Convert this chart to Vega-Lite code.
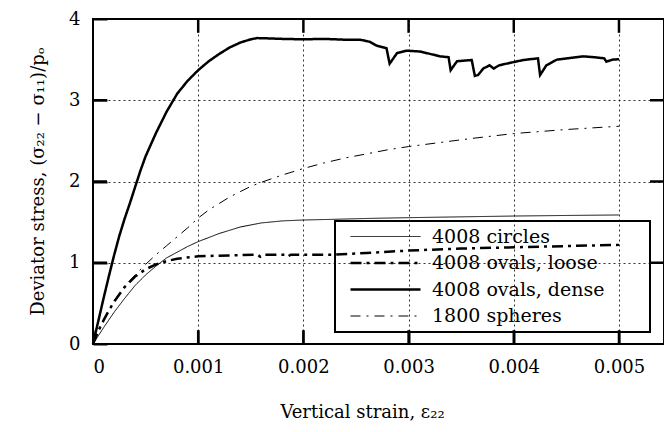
{
  "$schema": "https://vega.github.io/schema/vega-lite/v6.json",
  "width": 571,
  "height": 325,
  "autosize": {"type": "none"},
  "padding": {"left": 93, "top": 19, "right": 0, "bottom": 88},
  "config": {
    "font": "DejaVu Serif",
    "view": {"stroke": "black", "strokeWidth": 2},
    "axis": {"labelColor": "black", "titleColor": "black", "tickColor": "black", "labelFont": "DejaVu Serif", "titleFont": "DejaVu Serif"}
  },
  "datasets": {
    "ticksX": [{"v": 0.001}, {"v": 0.002}, {"v": 0.003}, {"v": 0.004}, {"v": 0.005}],
    "ticksY": [{"v": 1}, {"v": 2}, {"v": 3}]
  },
  "data": {"values": [
    {"s": "4008 circles", "x": 0, "y": 0},
    {"s": "4008 circles", "x": 0.0001, "y": 0.2},
    {"s": "4008 circles", "x": 0.0002, "y": 0.39},
    {"s": "4008 circles", "x": 0.0003, "y": 0.56},
    {"s": "4008 circles", "x": 0.0004, "y": 0.72},
    {"s": "4008 circles", "x": 0.0005, "y": 0.85},
    {"s": "4008 circles", "x": 0.0006, "y": 0.96},
    {"s": "4008 circles", "x": 0.0007, "y": 1.06},
    {"s": "4008 circles", "x": 0.0008, "y": 1.13},
    {"s": "4008 circles", "x": 0.0009, "y": 1.2},
    {"s": "4008 circles", "x": 0.001, "y": 1.26},
    {"s": "4008 circles", "x": 0.0012, "y": 1.36},
    {"s": "4008 circles", "x": 0.0014, "y": 1.44},
    {"s": "4008 circles", "x": 0.0016, "y": 1.49},
    {"s": "4008 circles", "x": 0.0018, "y": 1.515},
    {"s": "4008 circles", "x": 0.002, "y": 1.526},
    {"s": "4008 circles", "x": 0.0023, "y": 1.535},
    {"s": "4008 circles", "x": 0.0026, "y": 1.545},
    {"s": "4008 circles", "x": 0.003, "y": 1.555},
    {"s": "4008 circles", "x": 0.0035, "y": 1.565},
    {"s": "4008 circles", "x": 0.004, "y": 1.575},
    {"s": "4008 circles", "x": 0.0045, "y": 1.582},
    {"s": "4008 circles", "x": 0.005, "y": 1.588},
    {"s": "4008 ovals, loose", "x": 0, "y": 0},
    {"s": "4008 ovals, loose", "x": 0.00005, "y": 0.16},
    {"s": "4008 ovals, loose", "x": 0.0001, "y": 0.29},
    {"s": "4008 ovals, loose", "x": 0.00015, "y": 0.41},
    {"s": "4008 ovals, loose", "x": 0.0002, "y": 0.52},
    {"s": "4008 ovals, loose", "x": 0.0003, "y": 0.7},
    {"s": "4008 ovals, loose", "x": 0.0004, "y": 0.83},
    {"s": "4008 ovals, loose", "x": 0.0005, "y": 0.92},
    {"s": "4008 ovals, loose", "x": 0.0006, "y": 0.98},
    {"s": "4008 ovals, loose", "x": 0.0007, "y": 1.02},
    {"s": "4008 ovals, loose", "x": 0.0008, "y": 1.05},
    {"s": "4008 ovals, loose", "x": 0.001, "y": 1.08},
    {"s": "4008 ovals, loose", "x": 0.0013, "y": 1.09},
    {"s": "4008 ovals, loose", "x": 0.00156, "y": 1.1},
    {"s": "4008 ovals, loose", "x": 0.00159, "y": 1.075},
    {"s": "4008 ovals, loose", "x": 0.00162, "y": 1.1},
    {"s": "4008 ovals, loose", "x": 0.00182, "y": 1.1},
    {"s": "4008 ovals, loose", "x": 0.00185, "y": 1.075},
    {"s": "4008 ovals, loose", "x": 0.00188, "y": 1.1},
    {"s": "4008 ovals, loose", "x": 0.0023, "y": 1.1},
    {"s": "4008 ovals, loose", "x": 0.0026, "y": 1.12},
    {"s": "4008 ovals, loose", "x": 0.003, "y": 1.15},
    {"s": "4008 ovals, loose", "x": 0.0035, "y": 1.175},
    {"s": "4008 ovals, loose", "x": 0.004, "y": 1.19},
    {"s": "4008 ovals, loose", "x": 0.0045, "y": 1.205},
    {"s": "4008 ovals, loose", "x": 0.005, "y": 1.22},
    {"s": "4008 ovals, dense", "x": 0, "y": 0},
    {"s": "4008 ovals, dense", "x": 0.00005, "y": 0.28},
    {"s": "4008 ovals, dense", "x": 0.0001, "y": 0.56},
    {"s": "4008 ovals, dense", "x": 0.00015, "y": 0.83},
    {"s": "4008 ovals, dense", "x": 0.0002, "y": 1.09},
    {"s": "4008 ovals, dense", "x": 0.00025, "y": 1.33},
    {"s": "4008 ovals, dense", "x": 0.0003, "y": 1.54},
    {"s": "4008 ovals, dense", "x": 0.00035, "y": 1.73},
    {"s": "4008 ovals, dense", "x": 0.0004, "y": 1.93},
    {"s": "4008 ovals, dense", "x": 0.00045, "y": 2.13},
    {"s": "4008 ovals, dense", "x": 0.0005, "y": 2.31},
    {"s": "4008 ovals, dense", "x": 0.0006, "y": 2.6},
    {"s": "4008 ovals, dense", "x": 0.0007, "y": 2.86},
    {"s": "4008 ovals, dense", "x": 0.0008, "y": 3.08},
    {"s": "4008 ovals, dense", "x": 0.0009, "y": 3.24},
    {"s": "4008 ovals, dense", "x": 0.001, "y": 3.37},
    {"s": "4008 ovals, dense", "x": 0.0011, "y": 3.48},
    {"s": "4008 ovals, dense", "x": 0.0012, "y": 3.57},
    {"s": "4008 ovals, dense", "x": 0.0013, "y": 3.65},
    {"s": "4008 ovals, dense", "x": 0.0014, "y": 3.71},
    {"s": "4008 ovals, dense", "x": 0.0015, "y": 3.75},
    {"s": "4008 ovals, dense", "x": 0.00156, "y": 3.765},
    {"s": "4008 ovals, dense", "x": 0.0017, "y": 3.76},
    {"s": "4008 ovals, dense", "x": 0.0018, "y": 3.755},
    {"s": "4008 ovals, dense", "x": 0.002, "y": 3.75},
    {"s": "4008 ovals, dense", "x": 0.0022, "y": 3.755},
    {"s": "4008 ovals, dense", "x": 0.0024, "y": 3.745},
    {"s": "4008 ovals, dense", "x": 0.00254, "y": 3.745},
    {"s": "4008 ovals, dense", "x": 0.00263, "y": 3.72},
    {"s": "4008 ovals, dense", "x": 0.0027, "y": 3.67},
    {"s": "4008 ovals, dense", "x": 0.00279, "y": 3.64},
    {"s": "4008 ovals, dense", "x": 0.00282, "y": 3.45},
    {"s": "4008 ovals, dense", "x": 0.00289, "y": 3.58},
    {"s": "4008 ovals, dense", "x": 0.00298, "y": 3.61},
    {"s": "4008 ovals, dense", "x": 0.00311, "y": 3.6},
    {"s": "4008 ovals, dense", "x": 0.0033, "y": 3.54},
    {"s": "4008 ovals, dense", "x": 0.00338, "y": 3.53},
    {"s": "4008 ovals, dense", "x": 0.0034, "y": 3.37},
    {"s": "4008 ovals, dense", "x": 0.00346, "y": 3.48},
    {"s": "4008 ovals, dense", "x": 0.0036, "y": 3.495},
    {"s": "4008 ovals, dense", "x": 0.00363, "y": 3.3},
    {"s": "4008 ovals, dense", "x": 0.00366, "y": 3.31},
    {"s": "4008 ovals, dense", "x": 0.00371, "y": 3.39},
    {"s": "4008 ovals, dense", "x": 0.00377, "y": 3.43},
    {"s": "4008 ovals, dense", "x": 0.00381, "y": 3.39},
    {"s": "4008 ovals, dense", "x": 0.00386, "y": 3.43},
    {"s": "4008 ovals, dense", "x": 0.004, "y": 3.47},
    {"s": "4008 ovals, dense", "x": 0.00409, "y": 3.495},
    {"s": "4008 ovals, dense", "x": 0.00423, "y": 3.516},
    {"s": "4008 ovals, dense", "x": 0.00425, "y": 3.31},
    {"s": "4008 ovals, dense", "x": 0.00431, "y": 3.43},
    {"s": "4008 ovals, dense", "x": 0.00441, "y": 3.5},
    {"s": "4008 ovals, dense", "x": 0.00466, "y": 3.54},
    {"s": "4008 ovals, dense", "x": 0.00476, "y": 3.53},
    {"s": "4008 ovals, dense", "x": 0.00486, "y": 3.516},
    {"s": "4008 ovals, dense", "x": 0.00488, "y": 3.475},
    {"s": "4008 ovals, dense", "x": 0.00494, "y": 3.5},
    {"s": "4008 ovals, dense", "x": 0.005, "y": 3.505},
    {"s": "1800 spheres", "x": 0, "y": 0},
    {"s": "1800 spheres", "x": 0.0001, "y": 0.28},
    {"s": "1800 spheres", "x": 0.0002, "y": 0.53},
    {"s": "1800 spheres", "x": 0.0003, "y": 0.71},
    {"s": "1800 spheres", "x": 0.0004, "y": 0.85},
    {"s": "1800 spheres", "x": 0.0005, "y": 0.98},
    {"s": "1800 spheres", "x": 0.0006, "y": 1.1},
    {"s": "1800 spheres", "x": 0.0007, "y": 1.21},
    {"s": "1800 spheres", "x": 0.0008, "y": 1.32},
    {"s": "1800 spheres", "x": 0.0009, "y": 1.43},
    {"s": "1800 spheres", "x": 0.001, "y": 1.55},
    {"s": "1800 spheres", "x": 0.0011, "y": 1.65},
    {"s": "1800 spheres", "x": 0.0012, "y": 1.73},
    {"s": "1800 spheres", "x": 0.0013, "y": 1.81},
    {"s": "1800 spheres", "x": 0.0014, "y": 1.875},
    {"s": "1800 spheres", "x": 0.0015, "y": 1.94},
    {"s": "1800 spheres", "x": 0.0016, "y": 1.99},
    {"s": "1800 spheres", "x": 0.0018, "y": 2.08},
    {"s": "1800 spheres", "x": 0.002, "y": 2.16},
    {"s": "1800 spheres", "x": 0.0022, "y": 2.23},
    {"s": "1800 spheres", "x": 0.0024, "y": 2.29},
    {"s": "1800 spheres", "x": 0.0026, "y": 2.34},
    {"s": "1800 spheres", "x": 0.0028, "y": 2.39},
    {"s": "1800 spheres", "x": 0.003, "y": 2.43},
    {"s": "1800 spheres", "x": 0.0033, "y": 2.48},
    {"s": "1800 spheres", "x": 0.0036, "y": 2.53},
    {"s": "1800 spheres", "x": 0.004, "y": 2.59},
    {"s": "1800 spheres", "x": 0.0045, "y": 2.64},
    {"s": "1800 spheres", "x": 0.005, "y": 2.68}
  ]},
  "layer": [
    {
      "mark": {"type": "line", "color": "black"},
      "encoding": {
        "x": {
          "field": "x", "type": "quantitative",
          "scale": {"domain": [0, 0.005428], "nice": false, "zero": false},
          "axis": {
            "orient": "bottom", "offset": -14,
            "title": "Vertical strain, ε₂₂",
            "values": [0, 0.001, 0.002, 0.003, 0.004, 0.005],
            "format": ".3~f",
            "labelFontSize": 18, "titleFontSize": 18, "titleFontWeight": "normal",
            "domain": false,
            "ticks": true, "tickSize": 14, "tickWidth": 2, "tickColor": "black",
            "labelPadding": 14,
            "grid": true, "gridColor": "black", "gridDash": [2, 3], "gridWidth": 1, "gridOpacity": 0.8,
            "titleX": 269, "titleY": 87, "titleBaseline": "alphabetic"
          }
        },
        "y": {
          "field": "y", "type": "quantitative",
          "scale": {"domain": [0, 4], "nice": false, "zero": false},
          "axis": {
            "orient": "left", "offset": -14,
            "title": "Deviator stress, (σ₂₂ − σ₁₁)/pₒ",
            "values": [0, 1, 2, 3, 4],
            "labelFontSize": 18, "titleFontSize": 18, "titleFontWeight": "normal",
            "domain": false,
            "ticks": true, "tickSize": 14, "tickWidth": 2, "tickColor": "black",
            "labelPadding": 13,
            "grid": true, "gridColor": "black", "gridDash": [2, 3], "gridWidth": 1, "gridOpacity": 0.8,
            "titleX": -64, "titleY": 162, "titleBaseline": "alphabetic", "titleAngle": -90
          }
        },
        "strokeDash": {
          "field": "s", "type": "nominal",
          "scale": {"domain": ["4008 circles", "4008 ovals, loose", "4008 ovals, dense", "1800 spheres"], "range": [[1, 0], [11, 5, 3, 5], [1, 0], [10, 6, 2, 6]]},
          "legend": {
            "title": " ", "titleOrient": "right", "titlePadding": 40, "titleFontSize": 4,
            "orient": "none", "legendX": 242, "legendY": 202,
            "padding": 6, "strokeColor": "black",
            "labelFontSize": 19, "labelFont": "DejaVu Serif", "labelColor": "black", "labelLimit": 400,
            "labelOffset": 72, "rowPadding": 6.5,
            "symbolType": "M0,0H10", "symbolSize": 196, "symbolStrokeColor": "black", "symbolFillColor": "transparent",
            "encode": {"legend": {"update": {"strokeWidth": {"value": 2}}}}
          }
        },
        "strokeWidth": {
          "field": "s", "type": "nominal",
          "scale": {"type": "ordinal", "domain": ["4008 circles", "4008 ovals, loose", "4008 ovals, dense", "1800 spheres"], "range": [1, 2.5, 2.5, 1]},
          "legend": {
            "title": " ", "titleOrient": "right", "titlePadding": 40, "titleFontSize": 4,
            "orient": "none", "legendX": 242, "legendY": 202,
            "padding": 6, "strokeColor": "black",
            "labelFontSize": 19, "labelFont": "DejaVu Serif", "labelColor": "black", "labelLimit": 400,
            "labelOffset": 72, "rowPadding": 6.5,
            "symbolType": "M0,0H10", "symbolSize": 196, "symbolStrokeColor": "black", "symbolFillColor": "transparent",
            "encode": {"legend": {"update": {"strokeWidth": {"value": 2}}}}
          }
        }
      }
    },
    {
      "data": {"name": "ticksX"},
      "mark": {"type": "rule", "color": "black", "strokeWidth": 2.5, "opacity": 1},
      "encoding": {
        "x": {"field": "v", "type": "quantitative", "axis": null},
        "y": {"datum": 0, "type": "quantitative", "axis": null},
        "y2": {"datum": 0.17}
      }
    },
    {
      "data": {"name": "ticksX"},
      "mark": {"type": "rule", "color": "black", "strokeWidth": 2.5, "opacity": 1},
      "encoding": {
        "x": {"field": "v", "type": "quantitative", "axis": null},
        "y": {"datum": 3.83, "type": "quantitative", "axis": null},
        "y2": {"datum": 4}
      }
    },
    {
      "data": {"name": "ticksY"},
      "mark": {"type": "rule", "color": "black", "strokeWidth": 2.5, "opacity": 1},
      "encoding": {
        "y": {"field": "v", "type": "quantitative", "axis": null},
        "x": {"datum": 0, "type": "quantitative", "axis": null},
        "x2": {"datum": 0.000133}
      }
    },
    {
      "data": {"name": "ticksY"},
      "mark": {"type": "rule", "color": "black", "strokeWidth": 2.5, "opacity": 1},
      "encoding": {
        "y": {"field": "v", "type": "quantitative", "axis": null},
        "x": {"datum": 0.005295, "type": "quantitative", "axis": null},
        "x2": {"datum": 0.005428}
      }
    }
  ],
  "resolve": {"axis": {"x": "independent", "y": "independent"}}
}
